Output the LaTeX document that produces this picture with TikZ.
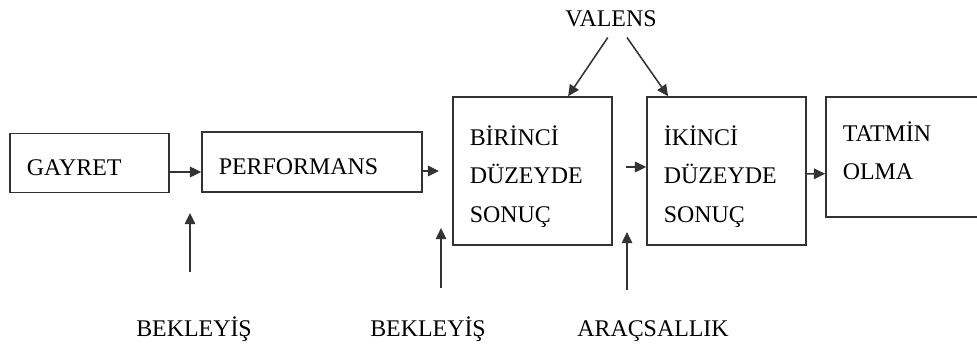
\documentclass[tikz,border=0pt]{standalone}
\usepackage{fontspec}
\setmainfont{Liberation Serif}
\usetikzlibrary{arrows.meta}

\begin{document}
\begin{tikzpicture}[
  every node/.style={font=\fontsize{17}{27.5}\selectfont},
  box/.style={draw=black!80, line width=1.1pt, rectangle, inner xsep=0.42cm, inner ysep=0pt, align=left},
  lbl/.style={anchor=base},
  arr/.style={-{Triangle[length=8pt,width=7.5pt]}, line width=1.1pt, draw=black!80}
]
\useasboundingbox (0,0) rectangle (24.425,8.625);

% Chain of boxes (text height/depth keep the text near the top)
\node[box, text width=3.135cm, text height=1.05cm, text depth=0.425cm] (gayret) at (2.2375,4.55) {GAYRET};
\node[box, text width=4.66cm, text height=1.05cm, text depth=0.45cm] (perf) at (7.8,4.575) {PERFORMANS};
\node[box, text width=3.135cm, text height=1.2cm, text depth=2.5cm] (birinci) at (13.3125,4.35) {BİRİNCİ\\DÜZEYDE\\SONUÇ};
\node[box, text width=3.135cm, text height=1.2cm, text depth=2.5cm] (ikinci) at (18.1625,4.35) {İKİNCİ\\DÜZEYDE\\SONUÇ};
% last box runs off the right edge
\node[box, text width=3.26cm, text height=1.1cm, text depth=1.9cm] (tatmin) at (22.7,4.7) {TATMİN\\OLMA};

% Labels
\node[lbl] (valens) at (15.275,7.95) {VALENS};
\node[lbl] (bek1) at (4.85,0.225) {BEKLEYİŞ};
\node[lbl] (bek2) at (10.7,0.225) {BEKLEYİŞ};
\node[lbl] (arac) at (16.325,0.225) {ARAÇSALLIK};

% Arrows along the chain
\draw[arr] ([yshift=-0.225cm]gayret.east) -- ([yshift=-0.25cm]perf.west);
\draw[arr] (perf.east |- birinci.west) -- ([xshift=-0.33cm]birinci.west);
\draw[arr] ([shift={(0.32,0.1)}]birinci.east) -- ([yshift=0.1cm]ikinci.west);
\draw[arr] ([yshift=-0.07cm]ikinci.east) -- ([yshift=-0.42cm]tatmin.west);

% Valens arrows
\draw[arr] ([shift={(-0.08,-0.13)}]valens.south) -- ([xshift=0.89cm]birinci.north);
\draw[arr] ([shift={(0.4,-0.13)}]valens.south) -- ([xshift=-1.46cm]ikinci.north);

% Arrows from below
\draw[arr] ([shift={(-0.1,1.6)}]bek1.base) -- ([shift={(-0.1,3.075)}]bek1.base);
\draw[arr] ([shift={(0.325,1.2)}]bek2.base) -- ([shift={(0.325,2.7)}]bek2.base);
\draw[arr] ([shift={(-0.65,1.15)}]arac.base) -- ([shift={(-0.65,2.6)}]arac.base);
\end{tikzpicture}
\end{document}
